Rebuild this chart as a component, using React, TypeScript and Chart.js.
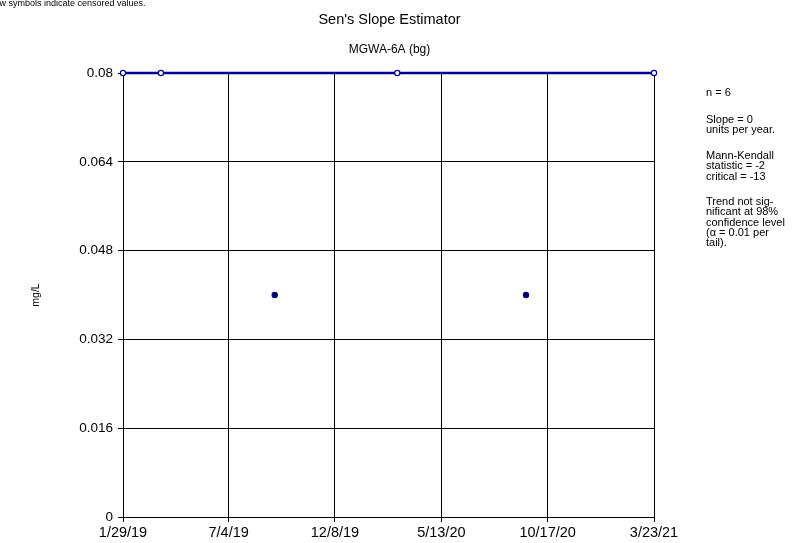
import React, { useEffect, useRef } from 'react';
import { Chart, registerables } from 'chart.js';

Chart.register(...registerables);

const chartTitle = "Sen's Slope Estimator";
const chartSubtitle = 'MGWA-6A (bg)';
const yAxisLabel = 'mg/L';
const censorNote = 'Hollow symbols indicate censored values.';

const sampleDates = ['2019-01-29', '2019-03-26', '2019-09-10', '2020-03-09', '2020-09-15', '2021-03-23'];
const sampleValues = [0.08, 0.08, 0.04, 0.08, 0.04, 0.08];
const sampleCensored = [true, true, false, true, false, true];

const trendDates = ['2019-01-29', '2021-03-23'];
const trendValues = [0.08, 0.08];

const xTickDates = ['2019-01-29', '2019-07-04', '2019-12-08', '2020-05-13', '2020-10-17', '2021-03-23'];
const yTickValues = [0, 0.016, 0.032, 0.048, 0.064, 0.08];

const statsGroups = [
  ['n = 6'],
  ['Slope = 0', 'units per year.'],
  ['Mann-Kendall', 'statistic = -2', 'critical = -13'],
  ['Trend not sig-', 'nificant at 98%', 'confidence level', '(\u03b1 = 0.01 per', 'tail).'],
];
const statsGroupTop = [93, 120, 156, 202];

const DAY = 86400000;
function dayNum(s: string): number {
  const [y, m, d] = s.split('-').map(Number);
  return Date.UTC(y, m - 1, d) / DAY;
}
function fmtDay(v: number): string {
  const dt = new Date(Math.round(v) * DAY);
  return `${dt.getUTCMonth() + 1}/${dt.getUTCDate()}/${String(dt.getUTCFullYear()).slice(2)}`;
}

const FONT = 'Arial, "Liberation Sans", sans-serif';
const NAVY = '#00008e';

const textPlugin = {
  id: 'textPlugin',
  afterDraw(chart: any) {
    const ctx = chart.ctx;
    const area = chart.chartArea;
    ctx.save();
    ctx.fillStyle = '#000';
    ctx.textBaseline = 'middle';
    ctx.textAlign = 'center';
    const cx = (area.left + area.right) / 2 + 1;
    ctx.font = `14.5px ${FONT}`;
    ctx.fillText(chartTitle, cx, 20);
    ctx.font = `12px ${FONT}`;
    ctx.fillText(chartSubtitle, cx, 50);

    ctx.textAlign = 'left';
    ctx.font = `9px ${FONT}`;
    ctx.fillText(censorNote, -21, 4);

    ctx.font = `11px ${FONT}`;
    statsGroups.forEach((g, gi) => {
      g.forEach((line, i) => {
        ctx.fillText(line, 706, statsGroupTop[gi] + i * 10.3);
      });
    });

    ctx.save();
    ctx.translate(36, (area.top + area.bottom) / 2);
    ctx.rotate(-Math.PI / 2);
    ctx.textAlign = 'center';
    ctx.font = `10.5px ${FONT}`;
    ctx.fillText(yAxisLabel, 0, 0);
    ctx.restore();
    ctx.restore();
  },
};

export default function App() {
  const ref = useRef<HTMLCanvasElement>(null);
  useEffect(() => {
    if (!ref.current) return;
    const points = sampleDates.map((d, i) => ({ x: dayNum(d), y: sampleValues[i] }));
    const trend = trendDates.map((d, i) => ({ x: dayNum(d), y: trendValues[i] }));
    const chart = new Chart(ref.current, {
      type: 'scatter',
      data: {
        datasets: [
          {
            type: 'line',
            label: 'Trend',
            data: trend,
            borderColor: NAVY,
            borderWidth: 2.5,
            pointRadius: 0,
            showLine: true,
            order: 2,
            clip: false,
          } as any,
          {
            label: 'Samples',
            data: points,
            pointRadius: 2.6,
            pointBorderWidth: 1.2,
            pointBorderColor: NAVY,
            pointBackgroundColor: sampleCensored.map((c) => (c ? '#ffffff' : '#000050')),
            order: 1,
            clip: false,
          } as any,
        ],
      },
      options: {
        animation: false,
        responsive: false,
        maintainAspectRatio: false,
        layout: { padding: { left: 0, right: 139, top: 73, bottom: 0 } },
        plugins: { legend: { display: false }, tooltip: { enabled: false }, title: { display: false } },
        scales: {
          x: {
            type: 'linear',
            min: dayNum(xTickDates[0]),
            max: dayNum(xTickDates[xTickDates.length - 1]),
            afterBuildTicks: (scale: any) => {
              scale.ticks = xTickDates.map((d) => ({ value: dayNum(d) }));
            },
            afterFit: (scale: any) => {
              scale.height = 26;
            },
            ticks: {
              callback: (v: any) => fmtDay(Number(v)),
              color: '#000',
              font: { family: FONT, size: 14.5 },
              padding: 2,
              maxRotation: 0,
              autoSkip: false,
            },
            grid: { color: '#000', lineWidth: 1, tickLength: 5 },
            border: { color: '#000', width: 1 },
          },
          y: {
            type: 'linear',
            min: 0,
            max: 0.08,
            afterBuildTicks: (scale: any) => {
              scale.ticks = yTickValues.map((v) => ({ value: v }));
            },
            afterFit: (scale: any) => {
              scale.width = 123;
            },
            ticks: {
              callback: (v: any) => String(Number(Number(v).toFixed(3))),
              color: '#000',
              font: { family: FONT, size: 13.5 },
              padding: 5,
              autoSkip: false,
            },
            grid: { color: '#000', lineWidth: 1, tickLength: 5 },
            border: { color: '#000', width: 1 },
          },
        },
      },
      plugins: [textPlugin],
    });
    return () => chart.destroy();
  }, []);
  return (
    <div style={{ position: 'fixed', left: 0, top: 0, width: 793, height: 543, background: '#fff' }}>
      <canvas ref={ref} width={793} height={543} style={{ width: 793, height: 543, display: 'block' }} />
    </div>
  );
}
